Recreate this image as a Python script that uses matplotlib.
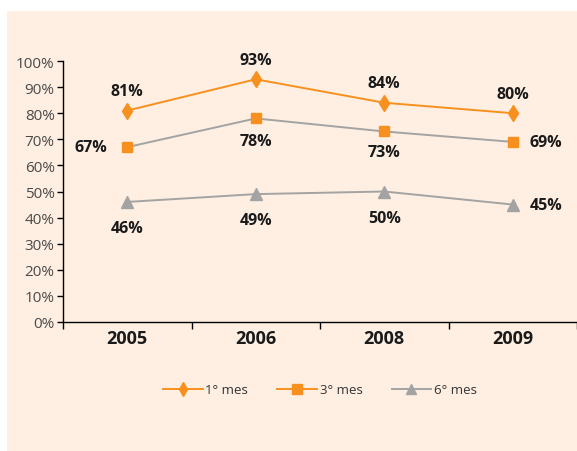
import matplotlib
matplotlib.use("Agg")
import matplotlib.pyplot as plt
from matplotlib.lines import Line2D
from matplotlib.patches import Rectangle

years = ["2005", "2006", "2008", "2009"]
mes1 = [81, 93, 84, 80]
mes3 = [67, 78, 73, 69]
mes6 = [46, 49, 50, 45]
series_names = ["1° mes", "3° mes", "6° mes"]
yticks = list(range(0, 101, 10))

plt.rcParams['font.family'] = ['Open Sans', 'DejaVu Sans']

BG = "#FEEFE2"
ORANGE = "#F7901E"
GRAY = "#A3A3A3"

fig = plt.figure(figsize=(5.77, 4.52), dpi=100)
fig.patches.append(Rectangle((7/577, 0), 1 - 7/577, (452-12)/452, transform=fig.transFigure,
                             facecolor=BG, edgecolor='none', zorder=-10))
ax = fig.add_axes([63/577, (452-323)/452, 1 - 63/577, (323-62)/452])
ax.set_facecolor('none')

x = list(range(len(years)))
ax.plot(x, mes1, color=ORANGE, lw=1.4, marker='d', ms=8.5, mec=ORANGE, mfc=ORANGE, zorder=3)
ax.plot(x, mes3, color=GRAY, lw=1.4, zorder=2)
ax.plot(x, mes3, ls='none', marker='s', ms=7, mec=ORANGE, mfc=ORANGE, zorder=3)
ax.plot(x, mes6, color=GRAY, lw=1.4, marker='^', ms=8.5, mec=GRAY, mfc=GRAY, zorder=3)

ax.set_xlim(-0.5, 3.5)
ax.set_ylim(0, 100)
ax.set_yticks(yticks)
ax.set_yticklabels([f"{v}%" for v in yticks], color="#4a4a4a", fontsize=11)
ax.set_xticks([i + 0.5 for i in range(-1, len(years))], minor=False)
ax.set_xticklabels([])
ax.set_xticks(x, minor=True)
ax.set_xticklabels(years, minor=True, fontsize=13, fontweight='bold', color="#1a1a1a")
ax.tick_params(axis='x', which='minor', length=0, pad=5)
ax.tick_params(axis='x', which='major', length=5, width=1, direction='out')
ax.tick_params(axis='y', length=4, width=1, direction='out', pad=2)
for s in ['top', 'right']:
    ax.spines[s].set_visible(False)
for s in ['left', 'bottom']:
    ax.spines[s].set_linewidth(1.0)

lab_kw = dict(textcoords='offset points', fontsize=11.5, fontweight='bold', color="#1a1a1a",
              ha='center', va='center')
for i, v in enumerate(mes1):
    ax.annotate(f"{v}%", (i, v), xytext=(0, 14), **lab_kw)
offs3 = [(-26, 0), (0, -16), (0, -15), (24, 0)]
for i, v in enumerate(mes3):
    ax.annotate(f"{v}%", (i, v), xytext=offs3[i], **lab_kw)
offs6 = [(0, -19), (0, -19), (0, -19), (24, 0)]
for i, v in enumerate(mes6):
    ax.annotate(f"{v}%", (i, v), xytext=offs6[i], **lab_kw)

handles = [
    Line2D([], [], color=ORANGE, lw=1.4, marker='d', ms=7.5, mfc=ORANGE, mec=ORANGE),
    Line2D([], [], color=ORANGE, lw=1.4, marker='s', ms=6.5, mfc=ORANGE, mec=ORANGE),
    Line2D([], [], color=GRAY, lw=1.4, marker='^', ms=7.5, mfc=GRAY, mec=GRAY),
]
leg = fig.legend(handles, series_names, loc='center', bbox_to_anchor=(320/577, (452-391)/452),
                 ncol=3, frameon=False, fontsize=9.5, handlelength=3.0, handletextpad=0.2,
                 columnspacing=2.2)
for t in leg.get_texts():
    t.set_color("#333333")

fig.savefig("out.png", dpi=100)
